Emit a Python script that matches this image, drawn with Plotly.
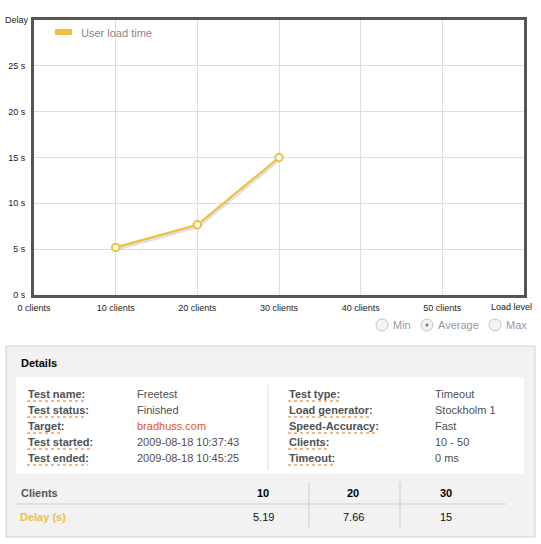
import plotly.graph_objects as go

# ---------------- data ----------------
clients = [10, 20, 30]
delay_s = [5.19, 7.66, 15]
x_tick_vals = [0, 10, 20, 30, 40, 50]
x_tick_text = ["0 clients", "10 clients", "20 clients", "30 clients", "40 clients", "50 clients"]
y_tick_vals = [0, 5, 10, 15, 20, 25]
y_tick_text = ["0 s", "5 s", "10 s", "15 s", "20 s", "25 s"]
series_name = "User load time"
radio_options = ["Min", "Average", "Max"]
radio_selected = "Average"

left_labels = ["Test name:", "Test status:", "Target:", "Test started:", "Test ended:"]
left_values = ["Freetest", "Finished", "bradhuss.com", "2009-08-18 10:37:43", "2009-08-18 10:45:25"]
right_labels = ["Test type:", "Load generator:", "Speed-Accuracy:", "Clients:", "Timeout:"]
right_values = ["Timeout", "Stockholm 1", "Fast", "10 - 50", "0 ms"]
table_header = "Clients"
table_row_label = "Delay (s)"
table_values = ["5.19", "7.66", "15"]

# ---------------- style ----------------
W, H = 541, 544
L, R, T, B = 34, 524, 20, 295
YEL = "#EEC13C"
FONT = "Liberation Sans, Arial, Helvetica, sans-serif"


def px(x):
    return (x - L) / (R - L)


def py(y):
    return (B - y) / (B - T)


fig = go.Figure()

# subtle shadow of the line (offset derived from data)
fig.add_trace(go.Scatter(
    x=[c + 0.12 for c in clients], y=[d - 0.2 for d in delay_s],
    mode="lines", line=dict(color="rgba(0,0,0,0.12)", width=3),
    hoverinfo="skip", showlegend=False))
fig.add_trace(go.Scatter(
    x=clients, y=delay_s, mode="lines+markers", name=series_name,
    line=dict(color=YEL, width=2.2),
    marker=dict(symbol="circle", size=7.5, color="white", line=dict(color=YEL, width=2)),
    showlegend=False))

axis_common = dict(showgrid=True, gridcolor="#dddddd", gridwidth=1,
                   showline=True, mirror=True, linecolor="#555555", linewidth=3,
                   zeroline=False, ticks="", automargin=False, fixedrange=True,
                   tickfont=dict(size=9, color="#222", family=FONT))

fig.update_layout(
    width=W, height=H, autosize=False,
    margin=dict(l=L, r=W - R, t=T, b=H - B, pad=0),
    paper_bgcolor="white", plot_bgcolor="white",
    font=dict(family=FONT, size=9, color="#222"),
    xaxis=dict(range=[0, 60], tickvals=x_tick_vals, ticktext=x_tick_text,
               ticklabelstandoff=2, **axis_common),
    yaxis=dict(range=[0, 30], tickvals=y_tick_vals, ticktext=y_tick_text,
               ticklabelstandoff=4, **axis_common),
    hovermode=False,
)

shapes = []
ann = []


def text(x, y, s, size=11, color="#444", bold=False, xanchor="left"):
    ann.append(dict(xref="paper", yref="paper", x=px(x), y=py(y), text=("<b>%s</b>" % s) if bold else s,
                    showarrow=False, xanchor=xanchor, yanchor="middle", borderpad=0,
                    font=dict(family=FONT, size=size, color=color)))


def rect(x0, y0, x1, y1, fill=None, line=None, lw=1):
    shapes.append(dict(type="rect", xref="paper", yref="paper",
                       x0=px(x0), x1=px(x1), y0=py(y0), y1=py(y1),
                       fillcolor=fill or "rgba(0,0,0,0)",
                       line=dict(color=line or "rgba(0,0,0,0)", width=lw if line else 0),
                       layer="below" if fill else "above"))


def hline(x0, x1, y, color, width=1, dash="solid"):
    shapes.append(dict(type="line", xref="paper", yref="paper", x0=px(x0), x1=px(x1), y0=py(y), y1=py(y),
                       line=dict(color=color, width=width, dash=dash)))


def vline(x, y0, y1, color, width=1):
    shapes.append(dict(type="line", xref="paper", yref="paper", x0=px(x), x1=px(x), y0=py(y0), y1=py(y1),
                       line=dict(color=color, width=width)))


# axis titles
text(30, 20, "Delay", size=9, color="#222", xanchor="right")
text(533, 307, "Load level", size=9, color="#222", xanchor="right")

# legend
shapes.append(dict(type="rect", xref="paper", yref="paper", x0=px(55), x1=px(72), y0=py(29), y1=py(35),
                   fillcolor=YEL, line=dict(width=0)))
text(80, 33, series_name, size=11, color="#888")

# radio buttons
radio_cx = [382, 427, 495]
radio_tx = [392, 437, 505]
for lab, cx, tx in zip(radio_options, radio_cx, radio_tx):
    shapes.append(dict(type="circle", xref="paper", yref="paper",
                       x0=px(cx - 6), x1=px(cx + 6), y0=py(325 - 6), y1=py(325 + 6),
                       fillcolor="#f3f3f3", line=dict(color="#c4c4c4", width=1)))
    if lab == radio_selected:
        shapes.append(dict(type="circle", xref="paper", yref="paper",
                           x0=px(cx - 1.5), x1=px(cx + 1.5), y0=py(325 - 1.5), y1=py(325 + 1.5),
                           fillcolor="#777", line=dict(width=0)))
    text(tx, 325, lab, size=11, color="#999")

# details panel
rect(6, 346, 535, 537, fill="#f2f2f2", line="#d0d0d0", lw=1)
rect(16, 377, 524, 474, fill="white")
text(20, 363, "Details", size=11, color="#000", bold=True)
vline(268, 385, 470, "#dddddd")

ys = [394, 410, 426, 442, 458]
left_ul = [84, 87, 63, 92, 88]
right_ul = [339, 372, 378, 328, 334]
for lab, val, y, ul in zip(left_labels, left_values, ys, left_ul):
    text(27, y, lab, color="#505050", bold=True)
    hline(27, ul, y + 7, "#E0701E", width=1, dash="dot")
    text(136, y, val, color="#E8501A" if val == "bradhuss.com" else "#505050")
for lab, val, y, ul in zip(right_labels, right_values, ys, right_ul):
    text(288, y, lab, color="#505050", bold=True)
    hline(288, ul, y + 7, "#E0701E", width=1, dash="dot")
    text(434, y, val, color="#505050")

# data table
col_x = [263, 353, 446]
text(20, 493, table_header, color="#555", bold=True)
text(19, 517, table_row_label, color=YEL, bold=True)
for cx, c, v in zip(col_x, clients, table_values):
    text(cx, 493, str(c), color="#000", bold=True, xanchor="center")
    text(cx, 517, v, color="#111", xanchor="center")
hline(16, 506, 504, "#cccccc")
vline(309, 482, 527, "#cccccc")
vline(400, 482, 527, "#cccccc")

fig.update_layout(shapes=shapes, annotations=ann)
fig.write_html("out.html", config={"displayModeBar": False, "staticPlot": True},
               post_script="document.body.style.margin='0';document.body.style.overflow='hidden';")
